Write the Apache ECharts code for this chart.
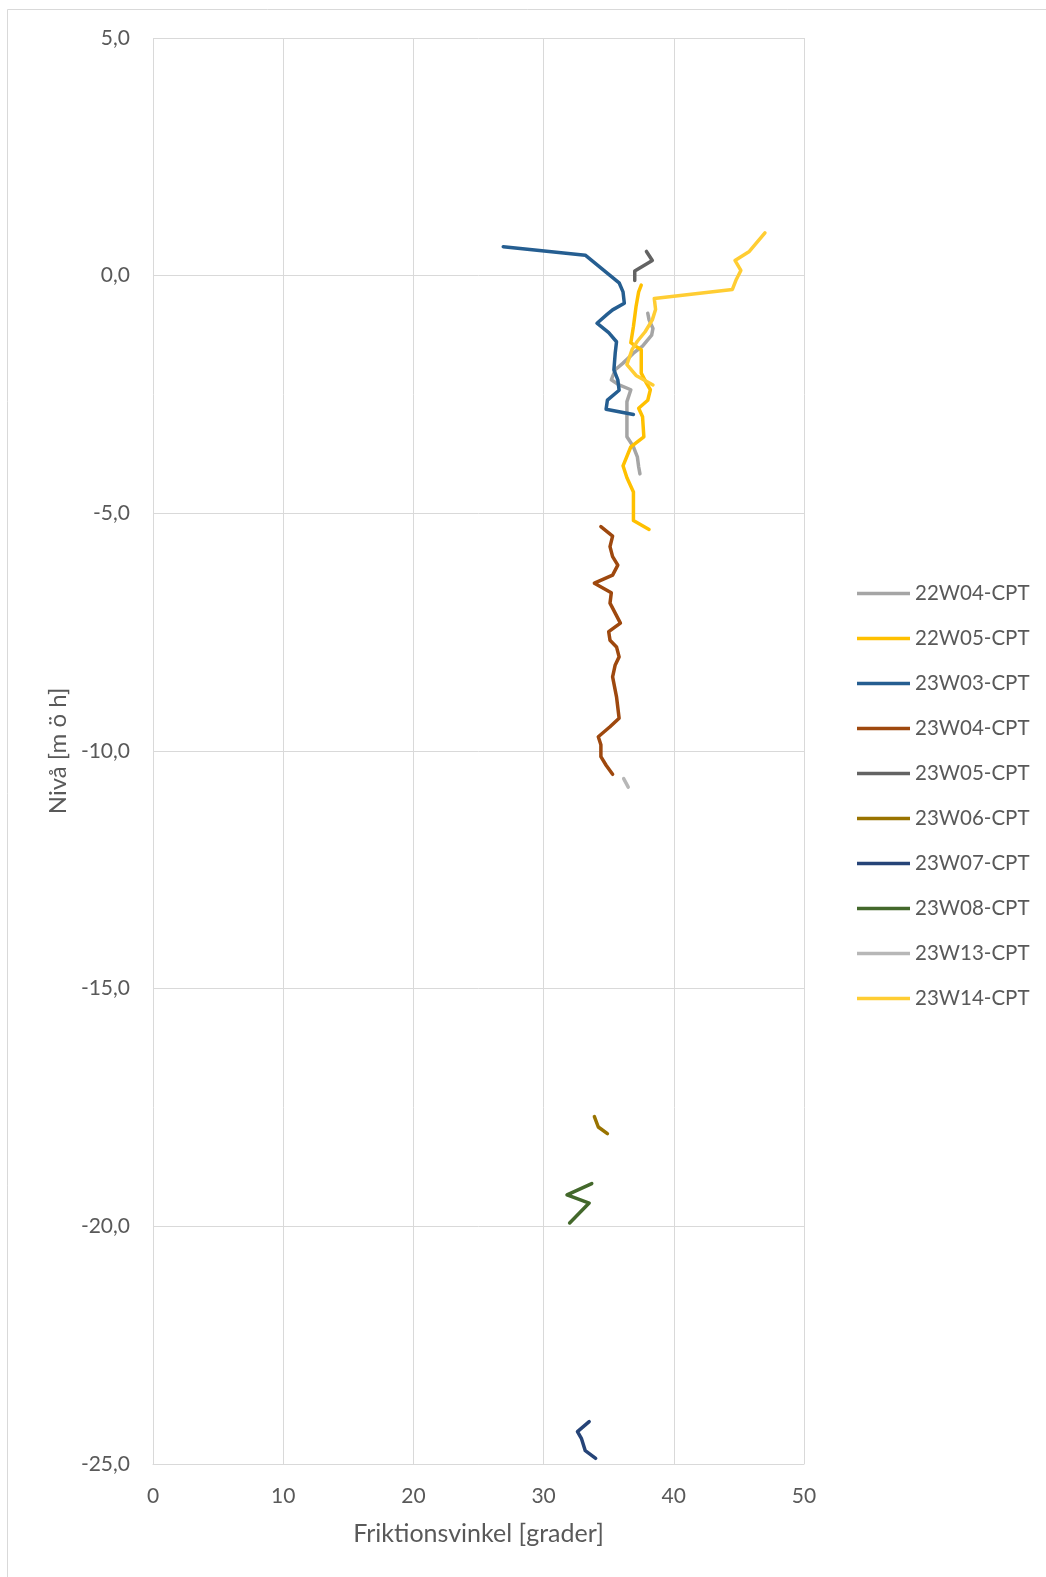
<!DOCTYPE html>
<html>
<head>
<meta charset="utf-8">
<script src="https://cdn.jsdelivr.net/npm/echarts@6/dist/echarts.min.js"></script>
<style>
html,body{margin:0;padding:0;background:#fff;overflow:hidden;}
#chart{width:1046px;height:1577px;}
</style>
</head>
<body>
<div id="chart"></div>
<script>
// Series names and colours
const seriesNames = ['22W04-CPT','22W05-CPT','23W03-CPT','23W04-CPT','23W05-CPT','23W06-CPT','23W07-CPT','23W08-CPT','23W13-CPT','23W14-CPT'];
const seriesColors = ['#A5A5A5','#FFC000','#255E91','#9E480E','#636363','#997300','#264478','#43682B','#B7B7B7','#FFCD33'];

// Friktionsvinkel (x) and Nivå (y) per sounding
const w22W04_x = [38.0, 38.1, 38.4, 38.3, 37.6, 36.9, 36.1, 35.5, 35.2, 35.8, 36.7, 36.4, 36.4, 36.4, 36.9, 37.2, 37.3, 37.4];
const w22W04_y = [-0.79, -0.93, -1.11, -1.25, -1.48, -1.63, -1.84, -1.98, -2.19, -2.30, -2.40, -2.65, -2.97, -3.39, -3.60, -3.81, -4.02, -4.17];

const w22W05_x = [37.5, 37.3, 37.1, 36.9, 36.7, 37.1, 37.5, 37.5, 37.5, 37.9, 38.2, 38.0, 37.3, 37.6, 37.7, 36.7, 36.1, 36.4, 36.9, 36.9, 38.1];
const w22W05_y = [-0.20, -0.34, -0.65, -1.07, -1.41, -1.49, -1.56, -1.77, -2.05, -2.26, -2.40, -2.62, -2.79, -2.97, -3.39, -3.60, -4.00, -4.25, -4.55, -5.15, -5.34];

const w23W03_x = [26.9, 33.2, 35.8, 36.1, 36.2, 35.3, 34.9, 34.1, 35.0, 35.6, 35.5, 35.4, 35.7, 35.8, 34.9, 34.8, 36.9];
const w23W03_y = [0.61, 0.43, -0.15, -0.34, -0.58, -0.72, -0.81, -1.00, -1.20, -1.39, -1.63, -1.98, -2.19, -2.41, -2.62, -2.81, -2.92];

const w23W04_x = [34.4, 35.3, 35.1, 35.3, 35.7, 35.3, 33.9, 35.2, 35.1, 35.5, 35.9, 35.0, 35.1, 35.6, 35.8, 35.5, 35.3, 35.6, 35.8, 35.1, 34.2, 34.4, 34.4, 34.8, 35.3];
const w23W04_y = [-5.28, -5.48, -5.70, -5.91, -6.09, -6.30, -6.47, -6.67, -6.89, -7.10, -7.31, -7.49, -7.67, -7.81, -8.02, -8.19, -8.44, -8.86, -9.31, -9.49, -9.70, -9.87, -10.12, -10.30, -10.49];

const w23W05_x = [37.9, 38.35, 37.0, 37.0];
const w23W05_y = [0.51, 0.32, 0.10, -0.10];

const w23W06_x = [33.9, 34.2, 34.9];
const w23W06_y = [-17.69, -17.91, -18.05];

const w23W07_x = [33.5, 32.6, 32.9, 33.2, 34.0];
const w23W07_y = [-24.11, -24.32, -24.46, -24.72, -24.88];

const w23W08_x = [33.7, 31.8, 33.5, 32.0];
const w23W08_y = [-19.10, -19.34, -19.51, -19.93];

const w23W13_x = [36.15, 36.5];
const w23W13_y = [-10.58, -10.76];

const w23W14_x = [47.0, 45.8, 44.7, 45.15, 44.8, 44.5, 38.5, 38.6, 38.35, 37.8, 37.2, 36.8, 36.4, 37.1, 38.4];
const w23W14_y = [0.90, 0.51, 0.32, 0.11, -0.08, -0.29, -0.48, -0.71, -0.93, -1.18, -1.38, -1.55, -1.87, -2.10, -2.30];

// Axis ticks
const xTicks = {min: 0, max: 50, step: 10};
const yTicks = {min: -25, max: 5, step: 5};

const allX = [w22W04_x, w22W05_x, w23W03_x, w23W04_x, w23W05_x, w23W06_x, w23W07_x, w23W08_x, w23W13_x, w23W14_x];
const allY = [w22W04_y, w22W05_y, w23W03_y, w23W04_y, w23W05_y, w23W06_y, w23W07_y, w23W08_y, w23W13_y, w23W14_y];

const FONT = 'Lato, "Open Sans", sans-serif';
const TXT = '#595959';

const series = seriesNames.map((name, i) => ({
  name: name,
  type: 'line',
  data: allX[i].map((x, k) => [x, allY[i][k]]),
  symbol: 'none',
  showSymbol: false,
  smooth: false,
  color: seriesColors[i],
  lineStyle: {width: 3.5, color: seriesColors[i], cap: 'round', join: 'round'},
  z: 2 + i
}));

// legend line icon: thin bar centred in a 53x20 box (tiny corner marks fix the extent)
const legendIcon = 'path://M0,0L0.01,0L0.01,0.01Z M53,20L52.99,20L52.99,19.99Z M0,8.3L53,8.3L53,11.7L0,11.7Z';

const chart = echarts.init(document.getElementById('chart'), null, {renderer: 'canvas'});
chart.setOption({
  animation: false,
  backgroundColor: '#fff',
  graphic: [{
    type: 'rect',
    shape: {x: 7.5, y: 9.5, width: 1100, height: 1700},
    style: {fill: 'none', stroke: '#D9D9D9', lineWidth: 1},
    silent: true, z: -1
  }],
  grid: {left: 153, top: 38, width: 651, height: 1426, containLabel: false},
  legend: {
    orient: 'vertical',
    left: 852,
    top: 578,
    itemWidth: 53,
    itemHeight: 20,
    itemGap: 24,
    icon: legendIcon,
    textStyle: {color: TXT, fontFamily: FONT, fontSize: 20.5, lineHeight: 20},
    data: seriesNames
  },
  xAxis: {
    type: 'value',
    min: xTicks.min, max: xTicks.max, interval: xTicks.step,
    name: 'Friktionsvinkel [grader]',
    nameLocation: 'middle',
    nameGap: 57.5,
    nameTextStyle: {color: TXT, fontFamily: FONT, fontSize: 25},
    axisLine: {show: true, onZero: false, lineStyle: {color: '#D9D9D9', width: 1}},
    axisTick: {show: false},
    axisLabel: {color: TXT, fontFamily: FONT, fontSize: 21, margin: 22},
    splitLine: {show: true, lineStyle: {color: '#D9D9D9', width: 1}}
  },
  yAxis: {
    type: 'value',
    min: yTicks.min, max: yTicks.max, interval: yTicks.step,
    name: 'Nivå [m ö h]',
    nameLocation: 'middle',
    nameGap: 83,
    nameRotate: 90,
    nameTextStyle: {color: TXT, fontFamily: FONT, fontSize: 24},
    axisLine: {show: false},
    axisTick: {show: false},
    axisLabel: {color: TXT, fontFamily: FONT, fontSize: 21, margin: 23,
      formatter: v => v.toFixed(1).replace('.', ',')},
    splitLine: {show: true, lineStyle: {color: '#D9D9D9', width: 1}}
  },
  series: series
});
</script>
</body>
</html>
